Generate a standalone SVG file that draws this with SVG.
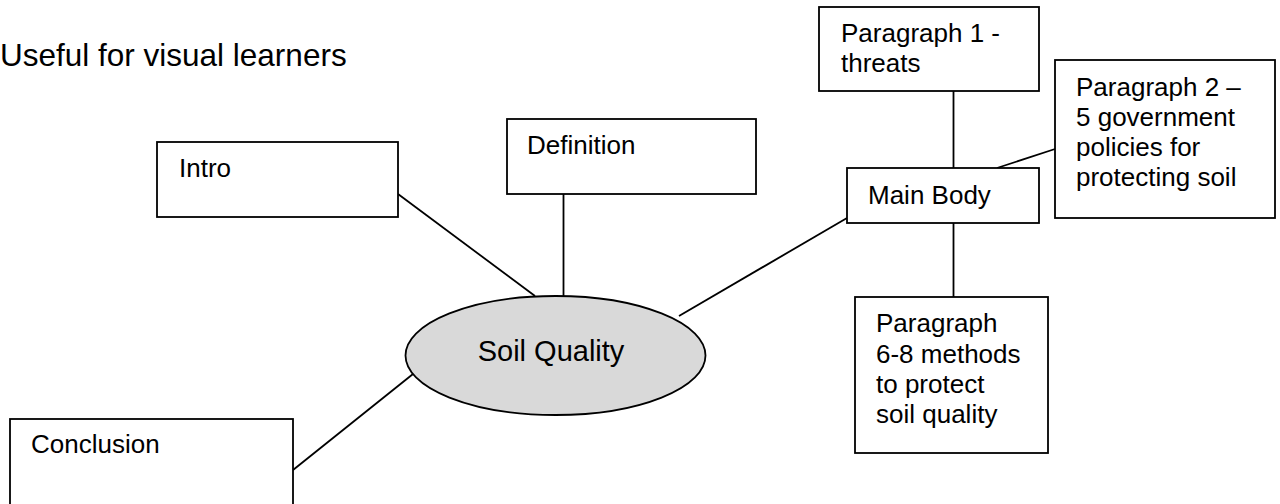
<svg xmlns="http://www.w3.org/2000/svg" width="1280" height="504" viewBox="0 0 1280 504">
<style>
text{font-family:"Liberation Sans",Arial,sans-serif;fill:#000;font-size:26px}
.box{fill:#fff;stroke:#000;stroke-width:1.8}
.ln{stroke:#000;stroke-width:1.8;fill:none}
</style>
<rect width="1280" height="504" fill="#fff"/>
<text id="subtitle" x="0" y="66" style="font-size:31.5px">Useful for visual learners</text>
<g id="connectors">
<line class="ln" x1="398" y1="194" x2="535" y2="296"/>
<line class="ln" x1="563.5" y1="194" x2="563.5" y2="296"/>
<line class="ln" x1="847" y1="218" x2="679" y2="316"/>
<line class="ln" x1="293" y1="470" x2="413" y2="374"/>
<line class="ln" x1="953.5" y1="91" x2="953.5" y2="168"/>
<line class="ln" x1="1055" y1="149" x2="997" y2="168"/>
<line class="ln" x1="953.5" y1="223" x2="953.5" y2="297"/>
</g>
<g id="intro">
<rect class="box" x="157" y="142" width="241" height="75"/>
<text x="179" y="177">Intro</text>
</g>
<g id="definition">
<rect class="box" x="507" y="119" width="249" height="75"/>
<text x="527" y="154">Definition</text>
</g>
<g id="soil-quality">
<ellipse cx="555.5" cy="355.5" rx="150" ry="59.5" fill="#d9d9d9" stroke="#000" stroke-width="1.8"/>
<text x="551" y="361" text-anchor="middle" style="font-size:29px">Soil Quality</text>
</g>
<g id="main-body">
<rect class="box" x="847" y="168" width="192" height="55"/>
<text x="868" y="204">Main Body</text>
</g>
<g id="paragraph1">
<rect class="box" x="819" y="7" width="220" height="84"/>
<text x="841" y="42">Paragraph 1 -</text>
<text x="841" y="72">threats</text>
</g>
<g id="paragraph2">
<rect class="box" x="1055" y="60" width="220" height="158"/>
<text x="1076" y="96">Paragraph 2 –</text>
<text x="1076" y="126">5 government</text>
<text x="1076" y="156">policies for</text>
<text x="1076" y="186">protecting soil</text>
</g>
<g id="paragraph6-8">
<rect class="box" x="855" y="297" width="193" height="156"/>
<text x="876" y="332">Paragraph</text>
<text x="876" y="363">6-8 methods</text>
<text x="876" y="393">to protect</text>
<text x="876" y="423">soil quality</text>
</g>
<g id="conclusion">
<rect class="box" x="10" y="419" width="283" height="100"/>
<text x="31" y="453">Conclusion</text>
</g>
</svg>
